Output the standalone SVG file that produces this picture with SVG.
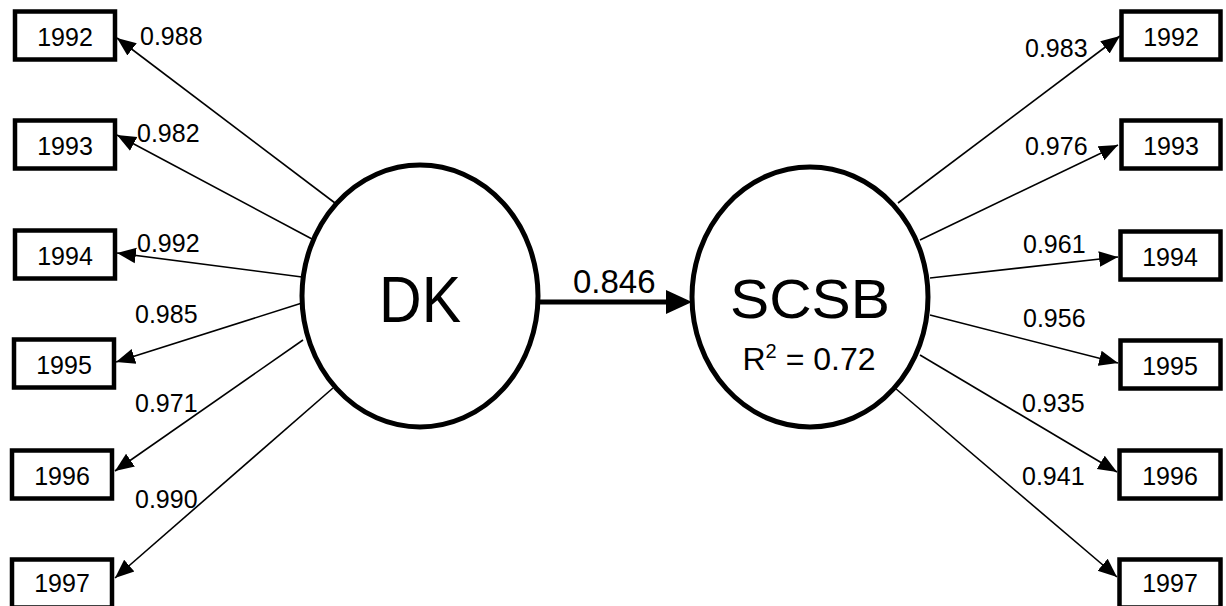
<svg xmlns="http://www.w3.org/2000/svg" width="1226" height="606" viewBox="0 0 1226 606">
<style>
  .box { fill: #fff; stroke: #000; stroke-width: 4.5; }
  .lat { fill: #fff; stroke: #000; stroke-width: 5; }
  .t { font-family: "Liberation Sans", Arial, Helvetica, sans-serif; fill: #000; }
  .bt { font-size: 25px; text-anchor: middle; }
  .lb { font-size: 25px; }
  .ln { stroke: #000; stroke-width: 1.6; fill: none; marker-end: url(#ah); }
</style>
<defs>
  <marker id="ah" markerUnits="userSpaceOnUse" markerWidth="20" markerHeight="18" viewBox="0 0 18 16" refX="17" refY="8" orient="auto">
    <path d="M0,1 L17,8 L0,15 z" fill="#000"/>
  </marker>
  <marker id="ahBig" markerUnits="userSpaceOnUse" markerWidth="28" markerHeight="26" viewBox="0 0 28 26" refX="6" refY="13" orient="auto">
    <path d="M0,1 L26,13 L0,25 z" fill="#000"/>
  </marker>
</defs>
<rect width="1226" height="606" fill="#fff"/>

<g id="connectors">
  <line class="ln" x1="335" y1="203" x2="117" y2="38"/>
  <line class="ln" x1="312" y1="239" x2="117" y2="135"/>
  <line class="ln" x1="302" y1="277" x2="117" y2="253"/>
  <line class="ln" x1="302" y1="303" x2="116" y2="362"/>
  <line class="ln" x1="303" y1="340" x2="115" y2="471"/>
  <line class="ln" x1="333" y1="388" x2="115" y2="578"/>
  <line class="ln" x1="898" y1="203" x2="1120" y2="36"/>
  <line class="ln" x1="920" y1="240" x2="1118" y2="145"/>
  <line class="ln" x1="930" y1="278" x2="1118" y2="257"/>
  <line class="ln" x1="930" y1="315" x2="1118" y2="363"/>
  <line class="ln" x1="920" y1="355" x2="1117" y2="472"/>
  <line class="ln" x1="895" y1="388" x2="1117" y2="577"/>
  <line x1="538" y1="302" x2="672" y2="302" stroke="#000" stroke-width="5" marker-end="url(#ahBig)"/>
  <text class="t lb" x="140" y="45">0.988</text>
  <text class="t lb" x="137" y="142">0.982</text>
  <text class="t lb" x="137" y="252">0.992</text>
  <text class="t lb" x="135" y="323">0.985</text>
  <text class="t lb" x="135" y="412">0.971</text>
  <text class="t lb" x="135" y="508">0.990</text>
  <text class="t lb" x="1025" y="57">0.983</text>
  <text class="t lb" x="1025" y="155">0.976</text>
  <text class="t lb" x="1023" y="253">0.961</text>
  <text class="t lb" x="1023" y="327">0.956</text>
  <text class="t lb" x="1022" y="412">0.935</text>
  <text class="t lb" x="1022" y="485">0.941</text>
  <text class="t" x="573" y="293" font-size="33">0.846</text>
</g>

<g id="DK">
  <ellipse class="lat" cx="420" cy="296" rx="118" ry="131"/>
  <text class="t" x="420" y="322" font-size="64" text-anchor="middle" textLength="82" lengthAdjust="spacingAndGlyphs">DK</text>
</g>
<g id="SCSB">
  <ellipse class="lat" cx="810" cy="297" rx="118" ry="130"/>
  <text class="t" x="810" y="318" font-size="56" text-anchor="middle" textLength="160" lengthAdjust="spacingAndGlyphs">SCSB</text>
  <text class="t" x="809" y="370" font-size="32" text-anchor="middle">R<tspan font-size="20" dy="-12">2</tspan><tspan dy="12"> = 0.72</tspan></text>
</g>

<g id="L1992"><rect class="box" x="15" y="11.5" width="100" height="48"/><text class="t bt" x="65" y="46">1992</text></g>
<g id="L1993"><rect class="box" x="15" y="120.5" width="100" height="48"/><text class="t bt" x="65" y="155">1993</text></g>
<g id="L1994"><rect class="box" x="15" y="230.5" width="100" height="48"/><text class="t bt" x="65" y="265">1994</text></g>
<g id="L1995"><rect class="box" x="14" y="339.5" width="100" height="48"/><text class="t bt" x="64" y="374">1995</text></g>
<g id="L1996"><rect class="box" x="12" y="450.5" width="100" height="48"/><text class="t bt" x="62" y="485">1996</text></g>
<g id="L1997"><rect class="box" x="12" y="559.5" width="100" height="48"/><text class="t bt" x="62" y="592">1997</text></g>

<g id="R1992"><rect class="box" x="1121.5" y="11.5" width="99" height="48"/><text class="t bt" x="1171" y="46">1992</text></g>
<g id="R1993"><rect class="box" x="1121.5" y="120.5" width="99" height="48"/><text class="t bt" x="1171" y="155">1993</text></g>
<g id="R1994"><rect class="box" x="1120.5" y="231.5" width="100" height="48"/><text class="t bt" x="1170" y="266">1994</text></g>
<g id="R1995"><rect class="box" x="1120.5" y="340.5" width="100" height="48"/><text class="t bt" x="1170" y="375">1995</text></g>
<g id="R1996"><rect class="box" x="1119.5" y="450.5" width="101" height="48"/><text class="t bt" x="1170" y="485">1996</text></g>
<g id="R1997"><rect class="box" x="1119.5" y="559.5" width="101" height="48"/><text class="t bt" x="1170" y="592">1997</text></g>
</svg>
